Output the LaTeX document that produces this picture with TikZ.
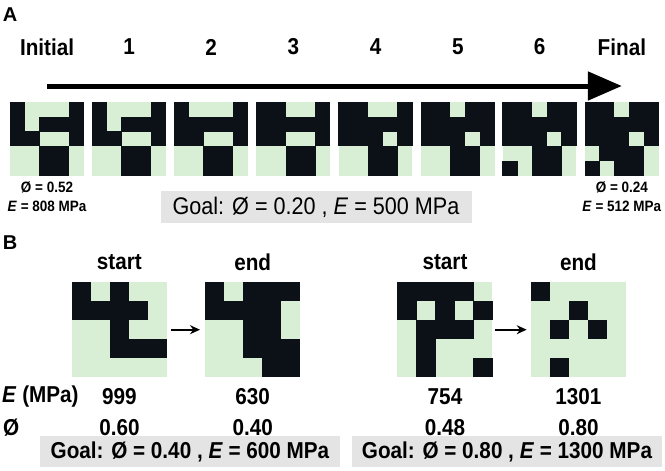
\documentclass[tikz,border=0pt]{standalone}
\usepackage{fontspec}
\setmainfont{Liberation Sans}[FakeStretch=0.9]
\newfontfamily\panelfont{Liberation Sans}
\usetikzlibrary{arrows.meta}
\definecolor{cellblack}{HTML}{0B1117}
\definecolor{cellgreen}{HTML}{D9EFD5}
\definecolor{goalgrey}{HTML}{E4E4E4}
\tikzset{
  gridnode/.style={rectangle, inner sep=0pt, draw=none},
  lab/.style={font=\fontsize{23}{26}\selectfont\bfseries, inner sep=0pt},
  smalllab/.style={font=\fontsize{15}{17}\selectfont\bfseries, inner sep=0pt},
  panellab/.style={font=\panelfont\fontsize{20}{24}\selectfont\bfseries, inner sep=0pt},
  goalbox/.style={fill=goalgrey, inner sep=0pt},
  bigarrow/.style={line width=5pt, -{Triangle[length=34pt,width=28pt]}},
  smallarrow/.style={line width=1.8pt, -{Stealth[length=10pt,width=9pt]}}
}
\newcommand\pxgrid[5]{%
  \node[gridnode, minimum size=5*#4pt, anchor=north west] (#1) at (#2,#3) {};
  \fill[cellgreen] (#2,#3) rectangle ++({5*#4},{5*#4});
  \foreach \rowlist [count=\r from 0] in {#5} {
    \foreach \v [count=\c from 0] in \rowlist {
      \ifnum\v=1
        \fill[cellblack] ({#2+\c*#4-0.2},{#3+\r*#4-0.2}) rectangle ++({#4+0.4},{#4+0.4});
      \fi
    }
  }
}
\begin{document}
\begin{tikzpicture}[x=1pt,y=-1pt]
\useasboundingbox (0,0) rectangle (665,471);
\fill[white] (0,0) rectangle (665,471);

% ---------- Panel A ----------
\node[panellab] (pa) at (10,15) {A};

\pxgrid{a0}{10}{102}{14.74}{{1,0,0,0,1},{1,0,1,1,1},{1,1,0,0,1},{0,0,1,1,0},{0,0,1,1,0}}
\pxgrid{a1}{92.1}{102}{14.74}{{1,0,0,0,1},{1,0,1,1,1},{1,1,0,0,1},{0,0,1,1,0},{0,0,1,1,0}}
\pxgrid{a2}{174.2}{102}{14.74}{{1,0,0,0,1},{1,1,1,1,1},{1,1,0,0,1},{0,0,1,1,0},{0,0,1,1,0}}
\pxgrid{a3}{256.4}{102}{14.74}{{1,1,0,0,1},{1,1,1,1,1},{1,1,0,0,1},{0,0,1,1,0},{0,0,1,1,0}}
\pxgrid{a4}{338.6}{102}{14.74}{{1,1,0,0,1},{1,1,1,1,1},{1,1,1,0,1},{0,0,1,1,0},{0,0,1,1,0}}
\pxgrid{a5}{420.8}{102}{14.74}{{1,1,0,1,1},{1,1,1,1,1},{1,1,1,0,1},{0,0,1,1,0},{0,0,1,1,0}}
\pxgrid{a6}{502.6}{102}{14.74}{{1,1,0,1,1},{1,1,1,1,1},{1,1,1,0,1},{0,0,1,1,0},{1,0,1,1,0}}
\pxgrid{a7}{584.8}{102}{14.74}{{1,1,0,1,1},{1,1,1,1,1},{1,1,1,0,1},{0,1,1,1,0},{1,0,1,1,0}}

\node[lab] (t0) at (a0.center |- 0,47) {Initial};
\node[lab] (t1) at (a1.center |- 0,47) {1};
\node[lab] (t2) at (a2.center |- 0,47) {2};
\node[lab] (t3) at (a3.center |- 0,47) {3};
\node[lab] (t4) at (a4.center |- 0,47) {4};
\node[lab] (t5) at (a5.center |- 0,47) {5};
\node[lab] (t6) at (a6.center |- 0,47) {6};
\node[lab] (t7) at (a7.center |- 0,47) {Final};

\coordinate (arrowy) at (0,86);
\draw[bigarrow] (a0.center |- arrowy) -- (a7.center |- arrowy);

\node[smalllab] (p0) at (a0.center |- 0,187) {Ø = 0.52};
\node[smalllab] (e0) at (a0.center |- 0,206) {\textit{E} = 808 MPa};
\node[smalllab] (p7) at (a7.center |- 0,187) {Ø = 0.24};
\node[smalllab] (e7) at (a7.center |- 0,206) {\textit{E} = 512 MPa};

\node[goalbox, minimum width=311pt, minimum height=32pt,
      font=\fontsize{24}{26}\selectfont] (ga) at (316,207)
  {Goal: Ø = 0.20 , \textit{E} = 500 MPa};

% ---------- Panel B ----------
\node[panellab] (pb) at (10,243) {B};

\pxgrid{b1s}{71.7}{282}{19}{{1,0,1,0,0},{1,1,1,1,0},{0,0,1,0,0},{0,0,1,1,1},{0,0,0,0,0}}
\pxgrid{b1e}{205}{282}{19}{{1,0,1,1,1},{1,1,1,1,0},{0,0,1,1,0},{0,0,1,1,1},{0,0,0,1,1}}
\pxgrid{b2s}{397.3}{282}{19}{{1,1,1,1,0},{1,0,1,0,1},{0,1,1,1,0},{0,1,0,0,0},{0,1,0,0,1}}
\pxgrid{b2e}{530.7}{282}{19}{{1,0,0,0,0},{0,0,1,0,0},{0,1,0,1,0},{0,0,0,0,0},{0,1,0,0,0}}

\draw[smallarrow, shorten <=3.5pt, shorten >=5pt] (b1s) -- (b1e);
\draw[smallarrow, shorten <=2.7pt, shorten >=4pt] (b2s) -- (b2e);

\node[lab] (s1) at (b1s.center |- 0,262) {start};
\node[lab] (n1) at (b1e.center |- 0,262) {end};
\node[lab] (s2) at (b2s.center |- 0,262) {start};
\node[lab] (n2) at (b2e.center |- 0,262) {end};

\node[lab, anchor=west] (erow) at (2,397) {\textit{E} (MPa)};
\node[lab, anchor=west] (prow) at (3,428) {Ø};

\node[lab] (e1s) at (b1s.center |- 0,397) {999};
\node[lab] (e1e) at (b1e.center |- 0,397) {630};
\node[lab] (e2s) at (b2s.center |- 0,397) {754};
\node[lab] (e2e) at (b2e.center |- 0,397) {1301};

\node[lab] (p1s) at (b1s.center |- 0,428) {0.60};
\node[lab] (p1e) at (b1e.center |- 0,428) {0.40};
\node[lab] (p2s) at (b2s.center |- 0,428) {0.48};
\node[lab] (p2e) at (b2e.center |- 0,428) {0.80};

\node[goalbox, minimum width=300pt, minimum height=31pt,
      font=\fontsize{23}{26}\selectfont\bfseries] (gb1) at (190,451.5)
  {Goal: Ø = 0.40 , \textit{E} = 600 MPa};
\node[goalbox, minimum width=310pt, minimum height=31pt,
      font=\fontsize{23}{26}\selectfont\bfseries] (gb2) at (507,451.5)
  {Goal: Ø = 0.80 , \textit{E} = 1300 MPa};
\end{tikzpicture}
\end{document}
